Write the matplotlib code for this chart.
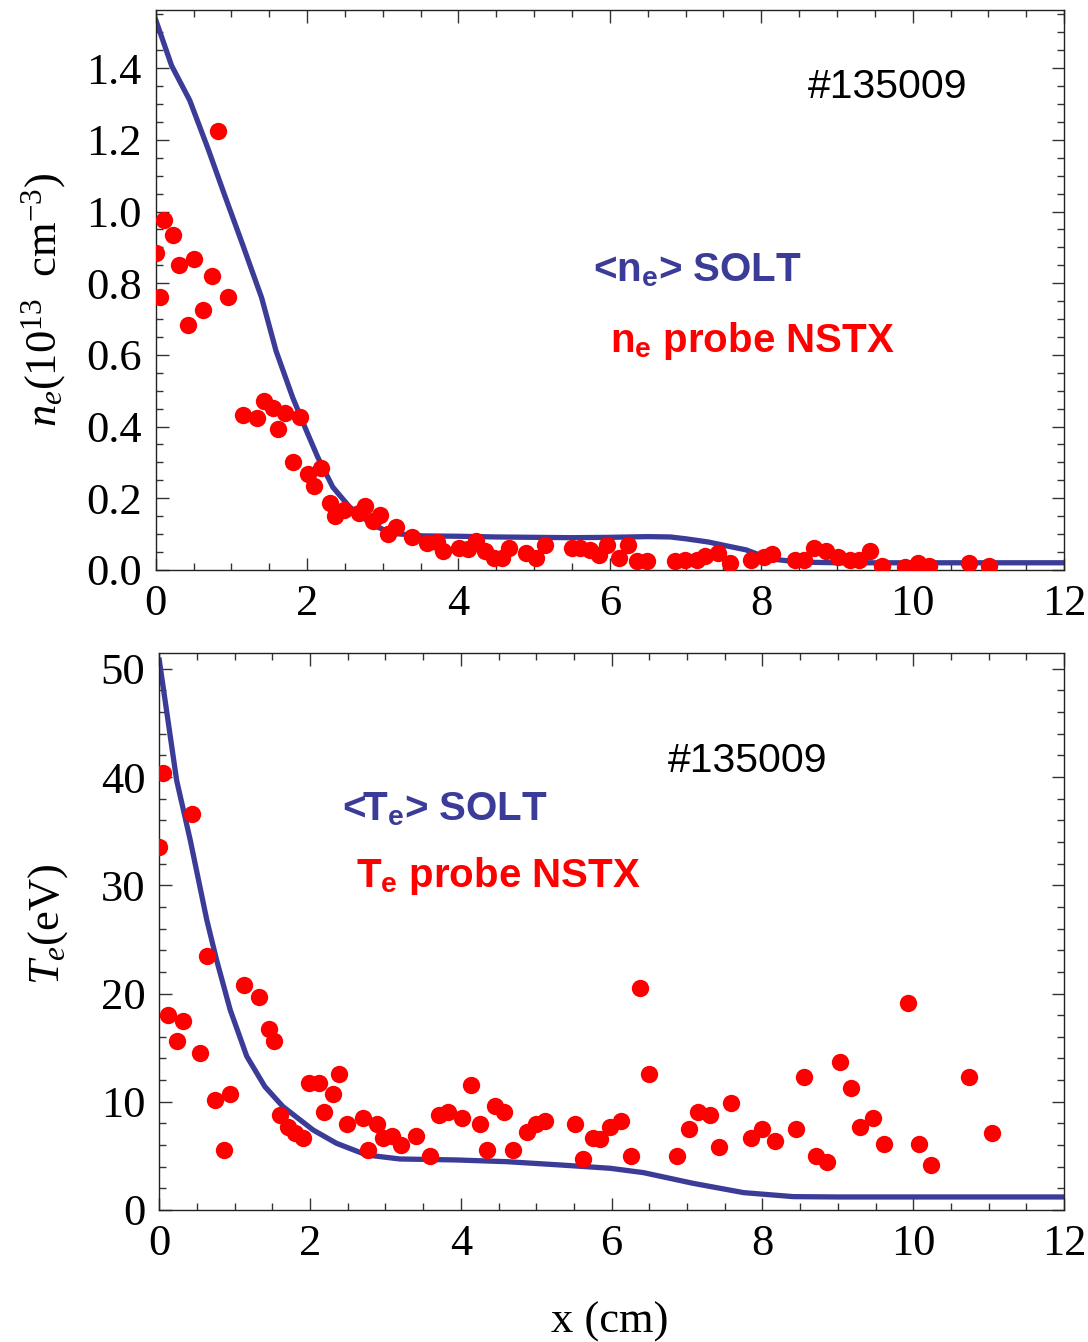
import matplotlib
matplotlib.use("Agg")
import matplotlib.pyplot as plt
from matplotlib.ticker import MultipleLocator, FormatStrFormatter

plt.rcParams['font.family'] = ['Liberation Serif', 'DejaVu Serif']
plt.rcParams['mathtext.fontset'] = 'custom'
plt.rcParams['mathtext.rm'] = 'Liberation Serif'
plt.rcParams['mathtext.it'] = 'Liberation Serif:italic'
plt.rcParams['mathtext.sf'] = 'Liberation Sans:bold'

# SOLT simulation, density profile
ne_sim_x = [0, 0.21, 0.45, 0.69, 0.91, 1.15, 1.40, 1.59, 1.81, 1.99, 2.14, 2.34, 2.56,
            2.87, 3.13, 3.53, 4.0, 4.5, 5.0, 5.5, 6.0, 6.5, 6.8, 7.0, 7.3, 7.5, 7.8,
            8.0, 8.2, 8.5, 9.0, 12.0]
ne_sim_y = [1.535, 1.407, 1.310, 1.176, 1.046, 0.907, 0.759, 0.611, 0.481, 0.389, 0.315,
            0.231, 0.176, 0.125, 0.102, 0.095, 0.094, 0.092, 0.091, 0.090, 0.091, 0.093,
            0.092, 0.087, 0.078, 0.069, 0.056, 0.040, 0.029, 0.022, 0.020, 0.020]

# NSTX probe, density
ne_probe_x = [0, 0.057, 0.11, 0.23, 0.31, 0.43, 0.51, 0.63, 0.75, 0.825, 0.95,
              1.15, 1.34, 1.43, 1.55, 1.62, 1.71, 1.81, 1.90, 2.01, 2.09, 2.18, 2.30,
              2.37, 2.49, 2.68, 2.76, 2.87, 2.96, 3.07, 3.17, 3.39, 3.59, 3.72, 3.79,
              4.01, 4.12, 4.23, 4.35, 4.47, 4.58, 4.67, 4.89, 5.02, 5.14, 5.50, 5.61,
              5.74, 5.85, 5.96, 6.12, 6.24, 6.36, 6.49, 6.86, 6.99, 7.15, 7.26, 7.43,
              7.59, 7.86, 8.03, 8.14, 8.45, 8.56, 8.69, 8.85, 9.01, 9.17, 9.29, 9.43,
              9.60, 9.90, 10.07, 10.22, 10.74, 11.01]
ne_probe_y = [0.884, 0.761, 0.976, 0.935, 0.852, 0.683, 0.868, 0.725, 0.819, 1.225, 0.761,
              0.433, 0.424, 0.470, 0.451, 0.392, 0.437, 0.301, 0.426, 0.269, 0.234, 0.285,
              0.187, 0.150, 0.167, 0.160, 0.178, 0.137, 0.152, 0.099, 0.119, 0.093, 0.074,
              0.079, 0.052, 0.060, 0.059, 0.080, 0.052, 0.033, 0.033, 0.060, 0.046, 0.033,
              0.069, 0.060, 0.060, 0.056, 0.042, 0.069, 0.033, 0.069, 0.025, 0.025, 0.025,
              0.028, 0.028, 0.039, 0.046, 0.018, 0.027, 0.037, 0.044, 0.028, 0.028, 0.060,
              0.054, 0.037, 0.028, 0.028, 0.054, 0.011, 0.009, 0.020, 0.011, 0.019, 0.011]

# SOLT simulation, temperature profile
te_sim_x = [0, 0.23, 0.41, 0.63, 0.76, 0.94, 1.16, 1.40, 1.64, 2.04, 2.35, 2.75, 3.19,
            3.94, 4.61, 5.31, 5.98, 6.42, 7.08, 7.75, 8.41, 9.0, 12.0]
te_sim_y = [50.8, 39.7, 34.2, 26.8, 23.1, 18.5, 14.2, 11.4, 9.55, 7.39, 6.16, 5.08, 4.71,
            4.62, 4.46, 4.16, 3.85, 3.45, 2.46, 1.6, 1.23, 1.2, 1.2]

# NSTX probe, temperature
te_probe_x = [0.05, 0.43, 0.0, 0.63, 0.11, 0.31, 0.23, 0.54, 0.74, 0.94, 0.86, 1.13, 1.32,
              1.45, 1.52, 1.60, 1.71, 1.80, 1.91, 1.99, 2.12, 2.39, 2.30, 2.18, 2.49, 2.70,
              2.89, 2.77, 2.97, 3.09, 3.20, 3.40, 3.59, 3.71, 3.83, 4.02, 4.13, 4.25, 4.34,
              4.45, 4.57, 4.69, 4.88, 5.0, 5.12, 5.51, 5.62, 5.75, 5.85, 5.98, 6.13, 6.25,
              6.37, 6.49, 6.87, 7.03, 7.15, 7.30, 7.42, 7.58, 7.85, 8.00, 8.17, 8.44, 8.55,
              8.71, 8.86, 9.03, 9.18, 9.29, 9.46, 9.61, 9.93, 10.08, 10.23, 10.74, 11.05]
te_probe_y = [40.4, 36.6, 33.5, 23.5, 18.0, 17.5, 15.6, 14.5, 10.2, 10.7, 5.55, 20.8, 19.7,
              16.7, 15.6, 8.78, 7.70, 7.09, 6.63, 11.77, 11.77, 12.6, 10.7, 9.06, 7.95, 8.47,
              7.95, 5.55, 6.63, 6.87, 6.0, 6.87, 4.99, 8.78, 9.03, 8.47, 11.5, 7.95, 5.55,
              9.64, 9.03, 5.55, 7.18, 7.95, 8.25, 7.95, 4.71, 6.63, 6.53, 7.7, 8.2, 4.99,
              20.5, 12.6, 4.99, 7.46, 9.03, 8.78, 5.79, 9.86, 6.63, 7.46, 6.38, 7.46, 12.3,
              4.99, 4.46, 13.7, 11.25, 7.7, 8.53, 6.07, 19.1, 6.07, 4.16, 12.3, 7.14]

blue = '#3b3b98'
red = '#ff0000'

fig = plt.figure(figsize=(10.88, 13.42), dpi=100)
ax1 = fig.add_axes([0.1431, 0.5753, 0.978 - 0.1431, 0.9925 - 0.5753])
ax2 = fig.add_axes([0.1464, 0.0984, 0.978 - 0.1464, 0.5137 - 0.0984])


def style_axes(ax, ymajor, yminor):
    ax.xaxis.set_major_locator(MultipleLocator(2))
    ax.xaxis.set_minor_locator(MultipleLocator(0.5))
    ax.yaxis.set_major_locator(MultipleLocator(ymajor))
    ax.yaxis.set_minor_locator(MultipleLocator(yminor))
    ax.tick_params(which='both', direction='in', top=True, right=True,
                   labelsize=32, color='#333333', width=1)
    ax.tick_params(which='major', length=9, pad=10)
    ax.tick_params(which='minor', length=5)
    for sp in ax.spines.values():
        sp.set_linewidth(1.0)
        sp.set_color('#222222')


# top panel: density
ax1.plot(ne_sim_x, ne_sim_y, color=blue, lw=3.8, zorder=2)
ax1.plot(ne_probe_x, ne_probe_y, 'o', color=red, ms=12.5, mec='none', zorder=3)
ax1.set_xlim(0, 12)
ax1.set_ylim(0, 1.562)
style_axes(ax1, 0.2, 0.05)
ax1.yaxis.set_major_formatter(FormatStrFormatter('%.1f'))
ax1.set_ylabel(r'$n_e(10^{13}\ \ \mathrm{cm}^{-3})$', fontsize=32)
ax1.yaxis.set_label_coords(-0.097, 0.482)
ax1.text(8.62, 1.317, '#135009', fontsize=29.5, family='Liberation Sans', color='black')
ax1.text(5.78, 0.804, r'<n$_{\mathsf{e}}$> SOLT', fontsize=29, family='Liberation Sans',
         weight='bold', color=blue)
ax1.text(6.0, 0.609, r'n$_{\mathsf{e}}$ probe NSTX', fontsize=29, family='Liberation Sans',
         weight='bold', color=red)

# bottom panel: temperature
ax2.plot(te_sim_x, te_sim_y, color=blue, lw=3.8, zorder=2)
ax2.plot(te_probe_x, te_probe_y, 'o', color=red, ms=12.5, mec='none', zorder=3)
ax2.set_xlim(0, 12)
ax2.set_ylim(0, 51.5)
style_axes(ax2, 10, 2)
ax2.set_ylabel(r'$T_e(\mathrm{eV})$', fontsize=32)
ax2.yaxis.set_label_coords(-0.099, 0.512)
ax2.set_xlabel('x (cm)', fontsize=32)
ax2.xaxis.set_label_coords(0.498, -0.165)
ax2.text(6.75, 40.5, '#135009', fontsize=29.5, family='Liberation Sans', color='black')
ax2.text(2.42, 36.0, r'<T$_{\mathsf{e}}$> SOLT', fontsize=29, family='Liberation Sans',
         weight='bold', color=blue)
ax2.text(2.61, 29.8, r'T$_{\mathsf{e}}$ probe NSTX', fontsize=29, family='Liberation Sans',
         weight='bold', color=red)

fig.savefig('out.png', dpi=100)
